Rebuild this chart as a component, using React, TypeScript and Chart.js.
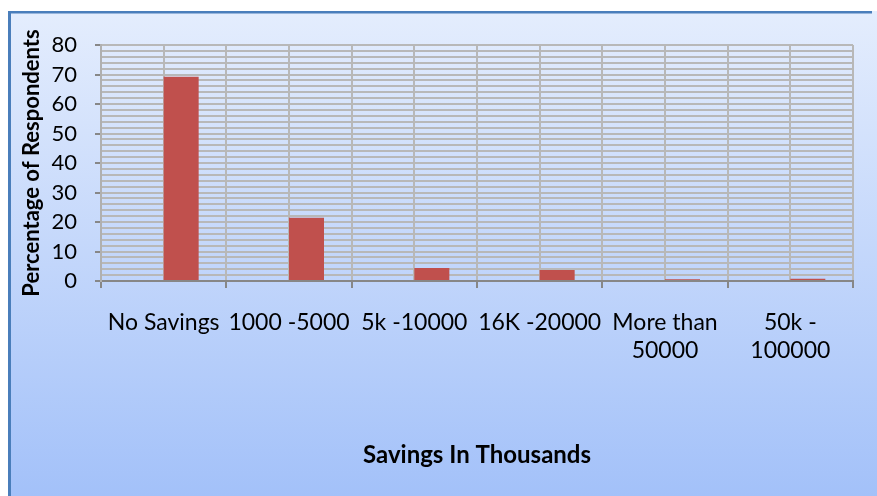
import React, { useEffect, useRef } from 'react';
import { Chart, registerables } from 'chart.js';

Chart.register(...registerables);

// ---- data ----
const categories: string[][] = [
  ['No Savings'],
  ['1000 -5000'],
  ['5k -10000'],
  ['16K -20000'],
  ['More than', '50000'],
  ['50k -', '100000'],
];
const percentages: number[] = [69.2, 21.4, 4.4, 3.7, 0.6, 0.8];
const emptySeries: (number | null)[] = [null, null, null, null, null, null];
const yMin = 0;
const yMax = 80;
const yLabelStep = 10;
const yGridStep = 2;
const xTitle = 'Savings In Thousands';
const yTitle = 'Percentage of Respondents';

const FONT = 'Lato';

const backgroundPlugin = {
  id: 'excelBackground',
  beforeDraw(chart: any) {
    const { ctx, width, height } = chart;
    ctx.save();
    ctx.fillStyle = '#ffffff';
    ctx.fillRect(0, 0, width, height);
    const g = ctx.createLinearGradient(0, 11, 0, height);
    g.addColorStop(0, '#E4EDFD');
    g.addColorStop(1, '#A3C1F9');
    ctx.fillStyle = g;
    ctx.fillRect(8, 11, width - 8, height - 11);
    ctx.fillStyle = '#4A7EBB';
    ctx.fillRect(8, 11, 3, height - 11);
    ctx.fillRect(8, 11, 864, 2.5);
    ctx.restore();
  },
};

export default function App() {
  const canvasRef = useRef<HTMLCanvasElement | null>(null);

  useEffect(() => {
    if (!canvasRef.current) return;
    const chart = new Chart(canvasRef.current, {
      type: 'bar',
      data: {
        labels: categories as any,
        datasets: [
          {
            label: 'Series1',
            data: emptySeries as any,
            backgroundColor: '#4F81BD',
          },
          {
            label: 'Percentage',
            data: percentages,
            backgroundColor: '#C0504D',
            borderWidth: 0,
          },
        ],
      },
      options: {
        responsive: false,
        animation: false,
        events: [],
        categoryPercentage: 70 / 125.33,
        barPercentage: 1,
        layout: { padding: { left: 0, top: 45, right: 24, bottom: 0 } },
        plugins: {
          legend: { display: false },
          tooltip: { enabled: false },
        },
        scales: {
          x: {
            type: 'category',
            position: 'bottom',
            offset: true,
            grid: {
              offset: true,
              color: '#B8B8B8',
              lineWidth: 2,
              drawTicks: true,
              tickLength: 7,
              tickColor: '#878787',
              tickWidth: 2,
            },
            border: { display: true, color: '#878787', width: 2 },
            ticks: {
              autoSkip: false,
              maxRotation: 0,
              minRotation: 0,
              padding: 21,
              color: '#000000',
              font: { family: FONT, size: 23, lineHeight: 28 / 23 },
            },
            title: {
              display: true,
              text: xTitle,
              color: '#000000',
              font: { family: FONT, size: 24, weight: 'bold', lineHeight: 1.2 },
              padding: { top: 0, bottom: 26 },
            },
            afterFit(scale: any) {
              scale.height = 215;
            },
          },
          x2: {
            type: 'category',
            position: 'top',
            offset: true,
            grid: {
              offset: false,
              color: '#B8B8B8',
              lineWidth: 2,
              drawTicks: false,
            },
            border: { display: false },
            ticks: { display: false },
            afterFit(scale: any) {
              scale.height = 0;
            },
          },
          y: {
            min: yMin,
            max: yMax,
            grid: {
              color: (c: any) => (c.tick && c.tick.value === 0 ? '#878787' : '#B8B8B8'),
              lineWidth: 2,
              drawTicks: true,
              tickLength: 6,
              tickColor: (c: any) =>
                c.tick && c.tick.value % yLabelStep === 0 ? '#878787' : 'rgba(0,0,0,0)',
              tickWidth: 2,
            },
            border: { display: true, color: '#B0B0B0', width: 2 },
            ticks: {
              stepSize: yGridStep,
              autoSkip: false,
              padding: 18,
              color: '#000000',
              font: { family: FONT, size: 22 },
              callback: (v: any) => (Number(v) % yLabelStep === 0 ? String(v) : ''),
            },
            title: {
              display: true,
              text: yTitle,
              color: '#000000',
              font: { family: FONT, size: 22, weight: 'bold', lineHeight: 1.2 },
              padding: { top: 19, bottom: 0 },
            },
            afterFit(scale: any) {
              scale.width = 101;
            },
          },
        },
      } as any,
      plugins: [backgroundPlugin],
    });
    return () => chart.destroy();
  }, []);

  return (
    <div style={{ position: 'fixed', left: 0, top: 0, width: 877, height: 496, overflow: 'hidden' }}>
      <canvas ref={canvasRef} width={877} height={496} style={{ display: 'block', width: 877, height: 496 }} />
    </div>
  );
}
